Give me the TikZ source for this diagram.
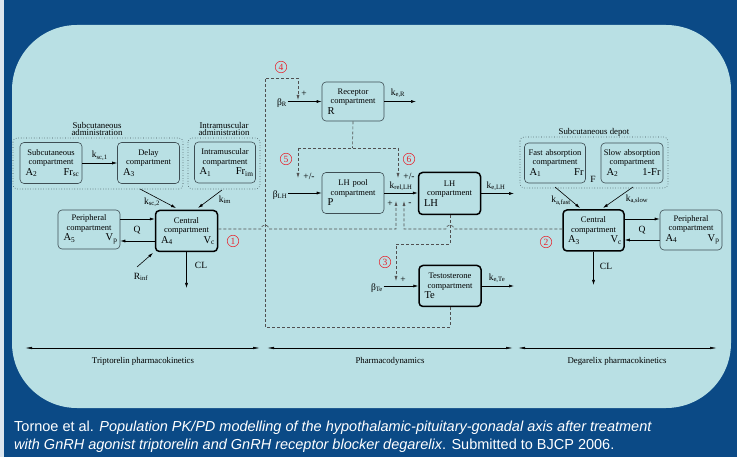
\documentclass[tikz,border=0pt]{standalone}
\usepackage{fontspec}
\setmainfont{Liberation Serif}
\newfontfamily\capfont{Liberation Sans}
\usetikzlibrary{arrows.meta}
\definecolor{bgblue}{HTML}{0B4A86}
\definecolor{panel}{HTML}{B9E0E4}
\definecolor{boxline}{HTML}{3E4E54}
\definecolor{dashc}{HTML}{505050}
\definecolor{circred}{HTML}{E8202A}
\definecolor{leftstrip}{HTML}{DCE6EF}
\newcommand{\sbs}[1]{\textsubscript{#1}}
\newcommand{\lowline}[2]{{\fontsize{10.5}{12}\selectfont\hspace*{3pt}#1\hfill#2\hspace*{3pt}}}
\tikzset{
  comp/.style={draw=boxline, line width=0.6pt, rounded corners=4pt, fill=panel,
    align=center, inner xsep=2pt, inner ysep=1pt, text width=57pt,
    minimum width=62pt, minimum height=41pt,
    font=\fontsize{8.5}{9.5}\selectfont},
  thickcomp/.style={comp, draw=black, line width=1.5pt},
  grp/.style={draw=boxline, dotted, line width=0.6pt, rounded corners=4pt},
  lab/.style={font=\fontsize{8.8}{8.8}\selectfont, inner sep=0.5pt, align=center},
  klab/.style={font=\fontsize{9.5}{10}\selectfont, inner sep=0.5pt},
  arr/.style={-{Latex[length=5pt,width=3pt]}, line width=0.6pt},
  dsh/.style={dash pattern=on 3pt off 2pt, draw=dashc, line width=0.6pt},
  darr/.style={dsh, -{Latex[length=5pt,width=3pt]}},
  dbl/.style={{Latex[length=7pt,width=2.5pt]}-{Latex[length=7pt,width=2.5pt]}, line width=0.6pt},
  num/.style={circle, draw=circred, text=circred, line width=0.5pt, inner sep=0pt,
    minimum size=11.5pt, font=\fontsize{9.5}{10}\selectfont},
}
\begin{document}
\begin{tikzpicture}[x=1pt,y=-1pt]
\useasboundingbox (0,0) rectangle (737,457);
\fill[bgblue] (0,0) rectangle (737,457);
\fill[leftstrip] (0,0) rectangle (4,457);
\fill[panel, rounded corners=65pt] (12,25) rectangle (731,408);

% ---------------- Triptorelin PK ----------------
\node[lab] (scadm) at (97,129) {Subcutaneous\\[-1pt]administration};
\node[lab] (imadm) at (224,129) {Intramuscular\\[-1pt]administration};
\draw[grp] (13,138) rectangle (183,189);
\draw[grp] (188,138) rectangle (260,189);
\node[comp] (subc) at (51,163) {Subcutaneous\\compartment\\[1pt]\lowline{A\sbs{2}}{Fr\sbs{sc}}};
\node[comp] (delay) at (148.5,163) {Delay\\compartment\\[1pt]\lowline{A\sbs{3}}{}};
\node[comp, minimum width=60pt] (intram) at (225,162.5) {Intramuscular\\compartment\\[1pt]\lowline{A\sbs{1}}{Fr\sbs{im}}};
\node[thickcomp] (central1) at (186.5,231) {Central\\compartment\\[1pt]\lowline{A\sbs{4}}{V\sbs{c}}};
\node[comp, minimum height=39pt] (periph1) at (89,229.5) {Peripheral\\compartment\\[1pt]\lowline{A\sbs{5}}{V\sbs{p}}};

\draw[arr] (subc.east) -- node[klab, above=2pt] (ksc1) {k\sbs{sc,1}} (delay.west);
\coordinate (ksc2a) at (140,189);
\coordinate (ksc2b) at (176,208);
\draw[arr] (ksc2a) -- (ksc2b);
\node[klab] (ksc2) at (152,202) {k\sbs{sc,2}};
\coordinate (kima) at (222,190);
\coordinate (kimb) at (198,208);
\draw[arr] (kima) -- (kimb);
\node[klab] (kim) at (225,200) {k\sbs{im}};
\draw[arr] (periph1.east |- 0,219) -- (central1.west |- 0,219);
\draw[arr] (central1.west |- 0,241) -- (periph1.east |- 0,241);
\node[klab] (q1) at (137,230) {Q};
\coordinate (rinfa) at (137,267);
\coordinate (rinfb) at (153,253);
\draw[arr] (rinfa) -- (rinfb);
\node[klab] (rinf) at (141,277) {R\sbs{inf}};
\coordinate (cl1end) at (186.5,288);
\draw[arr] (central1.south) -- (cl1end);
\node[klab] (cl1) at (201,265) {CL};
\node[num] (n1) at (233,241) {1};

% ---------------- Pharmacodynamics ----------------
\node[comp, minimum height=39pt] (receptor) at (353,101.5) {Receptor\\compartment\\[1pt]\lowline{R}{}};
\node[comp] (lhpool) at (353,193) {LH pool\\compartment\\[1pt]\lowline{P}{}};
\node[thickcomp, minimum height=42pt] (lh) at (449.5,193.5) {LH\\compartment\\[1pt]\lowline{LH}{}};
\node[thickcomp] (te) at (450,286) {Testosterone\\compartment\\[1pt]\lowline{Te}{}};

\node[klab] (betaR) at (282,103) {β\sbs{R}};
\draw[arr] (betaR.east |- receptor.west) -- (receptor.west);
\coordinate (keRend) at (416,101.5);
\draw[arr] (receptor.east) -- (keRend);
\node[klab] (keR) at (398,93) {k\sbs{e,R}};

\node[klab] (betaLH) at (280,195) {β\sbs{LH}};
\draw[arr] (betaLH.east |- lhpool.west) -- (lhpool.west);
\draw[arr] (lhpool.east) -- (lh.west |- lhpool.east);
\node[klab] (krel) at (401,186) {k\sbs{rel,LH}};
\coordinate (keLHend) at (514,193.5);
\draw[arr] (lh.east) -- (keLHend);
\node[klab] (keLH) at (496,186) {k\sbs{e,LH}};

\node[klab] (betaTe) at (377,288) {β\sbs{Te}};
\draw[arr] (betaTe.east |- te.west) -- (te.west);
\coordinate (keTeend) at (514,286);
\draw[arr] (te.east) -- (keTeend);
\node[klab] (keTe) at (497,278) {k\sbs{e,Te}};

% dashed regulation paths
\coordinate (plusin) at (396,201);
\coordinate (minusin) at (404,201);
\draw[darr] (central1.east |- 0,229) -- (261,229) arc[start angle=180, end angle=0, radius=4pt] -- (396,229) -- (plusin);
\node[klab] (plus6a) at (390,204) {+};
\node[klab] (minus6a) at (410,204) {-};

% receptor -> (5),(6)
\coordinate (rsplit) at (352.5,148);
\coordinate (p5top) at (298,148);
\coordinate (p6top) at (398,148);
\coordinate (p5end) at (298,178);
\coordinate (p6end) at (398,178);
\draw[dsh] (receptor.south) -- (rsplit);
\draw[dsh] (p5top) -- (p6top);
\draw[darr] (p5top) -- (p5end);
\draw[darr] (p6top) -- (p6end);
\node[klab] (pm5) at (309,176) {+/-};
\node[klab] (pm6) at (409,176) {+/-};
\node[num] (n5) at (286,159) {5};
\node[num] (n6) at (409,159) {6};

% Te -> (4)
\coordinate (p4end) at (298,100);
\draw[darr] (te.south) -- (450,327) -- (265,327) -- (265,78) -- (298,78) -- (p4end);
\node[klab] (plus4) at (304,94) {+};
\node[num] (n4) at (281,67) {4};

% LH -> (3)
\coordinate (p3end) at (396,281);
\draw[darr] (lh.south -| 450,0) -- (450,244) -- (396,244) -- (p3end);
\node[klab] (plus3) at (403,280) {+};
\node[num] (n3) at (385,262) {3};

% ---------------- Degarelix PK ----------------
\node[lab] (depot) at (594,132) {Subcutaneous depot};
\draw[grp] (520,137) rectangle (668,188);
\node[comp, minimum width=61pt, minimum height=40pt] (fast) at (555,163) {Fast absorption\\compartment\\[1pt]\lowline{A\sbs{1}}{Fr}};
\node[comp, minimum width=62pt, minimum height=40pt] (slow) at (632,163) {Slow absorption\\compartment\\[1pt]\lowline{A\sbs{2}}{1-Fr}};
\node[klab] (fF) at (593,179) {F};
\node[thickcomp, minimum width=61pt] (central2) at (593.5,230.5) {Central\\compartment\\[1pt]\lowline{A\sbs{3}}{V\sbs{c}}};
\node[comp, minimum height=40pt] (periph2) at (691,230) {Peripheral\\compartment\\[1pt]\lowline{A\sbs{4}}{V\sbs{p}}};

\coordinate (kfa) at (555,187);
\coordinate (kfb) at (580,208);
\draw[arr] (kfa) -- (kfb);
\node[klab] (kafast) at (561,201) {k\sbs{a,fast}};
\coordinate (ksa) at (633,187);
\coordinate (ksb) at (603,208);
\draw[arr] (ksa) -- (ksb);
\node[klab] (kaslow) at (637,199) {k\sbs{a,slow}};
\draw[arr] (central2.east |- 0,219) -- (periph2.west |- 0,219);
\draw[arr] (periph2.west |- 0,240) -- (central2.east |- 0,240);
\node[klab] (q2) at (642,230) {Q};
\coordinate (cl2end) at (593.5,285);
\draw[arr] (central2.south) -- (cl2end);
\node[klab] (cl2) at (606,266) {CL};
\node[num] (n2) at (546,242) {2};

\draw[darr] (central2.west |- 0,229) -- (454,229) arc[start angle=0, end angle=180, radius=4pt] -- (404,229) -- (minusin);

% ---------------- bottom axis ----------------
\coordinate (ax1a) at (25,348); \coordinate (ax1b) at (260,348);
\coordinate (ax2a) at (267,348); \coordinate (ax2b) at (513,348);
\coordinate (ax3a) at (518,348); \coordinate (ax3b) at (717,348);
\draw[dbl] (ax1a) -- (ax1b);
\draw[dbl] (ax2a) -- (ax2b);
\draw[dbl] (ax3a) -- (ax3b);
\node[lab] (tpk) at (143,361) {Triptorelin pharmacokinetics};
\node[lab] (pd) at (390,361) {Pharmacodynamics};
\node[lab] (dpk) at (617,361) {Degarelix pharmacokinetics};

% ---------------- caption ----------------
\node[anchor=base west, text=white, inner sep=0pt, font=\capfont\fontsize{14.5}{16}\selectfont] (cap1) at (14,431) {Tornoe et al. \textit{Population PK/PD modelling of the hypothalamic-pituitary-gonadal axis after treatment}};
\node[anchor=base west, text=white, inner sep=0pt, font=\capfont\fontsize{14.5}{16}\selectfont] (cap2) at (14,449) {\textit{with GnRH agonist triptorelin and GnRH receptor blocker degarelix}. Submitted to BJCP 2006.};
\end{tikzpicture}
\end{document}
